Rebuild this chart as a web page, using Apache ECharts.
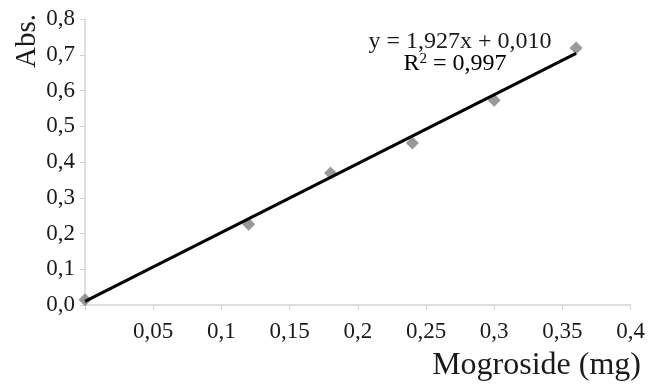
<!DOCTYPE html>
<html>
<head>
<meta charset="utf-8">
<script src="https://cdn.jsdelivr.net/npm/echarts@6/dist/echarts.min.js"></script>
<style>
    html, body { margin: 0; padding: 0; background: #fff; }
    #chart { width: 648px; height: 385px; }
</style>
</head>
<body>
<div id="chart"></div>
<script>
// 标准曲线数据
var massMg = [0, 0.12, 0.18, 0.24, 0.30, 0.36];
var absValues = [0.015, 0.226, 0.369, 0.453, 0.573, 0.719];
// 趋势线两端 y = 1,927x + 0,010
var trendX = [0, 0.36];
var trendY = [0.010, 0.704];
var eqLine1 = 'y = 1,927x + 0,010';
var eqLine2 = ['R', '2', ' = 0,997'];

var FONT = '"Liberation Serif", "Times New Roman", serif';

var chart = echarts.init(document.getElementById('chart'));

function comma(v, d) {
    return (d == null ? String(v) : v.toFixed(d)).replace('.', ',');
}

var option = {
    animation: false,
    grid: {
        left: 85,
        right: 15,
        top: 19,
        bottom: 80,
        containLabel: false
    },
    xAxis: {
        type: 'value',
        min: 0,
        max: 0.4,
        interval: 0.05,
        splitLine: { show: false },
        axisLine: { lineStyle: { color: '#d4d4d4', width: 1.5 } },
        axisTick: { show: true, length: 5, lineStyle: { color: '#d4d4d4' } },
        axisLabel: {
            margin: 15,
            fontFamily: FONT,
            fontSize: 23,
            color: '#1a1a1a',
            formatter: function (v) {
                return v === 0 ? '' : comma(Math.round(v * 100) / 100);
            }
        }
    },
    yAxis: {
        type: 'value',
        min: 0,
        max: 0.8,
        interval: 0.1,
        splitLine: { show: false },
        axisLine: { show: true, lineStyle: { color: '#d4d4d4', width: 1.5 } },
        axisTick: { show: true, length: 5, lineStyle: { color: '#d4d4d4' } },
        axisLabel: {
            margin: 10,
            fontFamily: FONT,
            fontSize: 23,
            color: '#1a1a1a',
            padding: [12, 0, 0, 0],
            formatter: function (v) {
                return comma(v, 1);
            }
        }
    },
    graphic: [
        {
            type: 'text',
            x: 27,
            y: 41,
            rotation: Math.PI / 2,
            style: {
                text: 'Abs.',
                font: '29px ' + FONT,
                fill: '#1a1a1a',
                textAlign: 'center',
                textVerticalAlign: 'middle'
            }
        },
        {
            type: 'text',
            right: 7,
            top: 350,
            style: {
                text: 'Mogroside (mg)',
                font: '32px ' + FONT,
                fill: '#1a1a1a'
            }
        },
        {
            type: 'text',
            x: 460,
            y: 42,
            style: {
                text: eqLine1,
                font: '24px ' + FONT,
                fill: '#1a1a1a',
                textAlign: 'center',
                textVerticalAlign: 'middle'
            }
        },
        {
            type: 'text',
            x: 455,
            y: 64,
            style: {
                text: '{n|' + eqLine2[0] + '}{s|' + eqLine2[1] + '}{n|' + eqLine2[2] + '}',
                textAlign: 'center',
                textVerticalAlign: 'middle',
                rich: {
                    n: { fontFamily: FONT, fontSize: 24, color: '#1a1a1a' },
                    s: { fontFamily: FONT, fontSize: 15, color: '#1a1a1a', padding: [0, 0, 10, 0] }
                }
            }
        }
    ],
    series: [
        {
            name: 'Abs.',
            type: 'scatter',
            symbol: 'diamond',
            symbolSize: 13,
            itemStyle: { color: '#7f7f7f' },
            data: massMg.map(function (x, i) { return [x, absValues[i]]; })
        },
        {
            name: 'trend',
            type: 'line',
            showSymbol: false,
            symbol: 'none',
            lineStyle: { color: '#000', width: 3 },
            data: trendX.map(function (x, i) { return [x, trendY[i]]; })
        }
    ]
};
chart.setOption(option);
</script>
</body>
</html>
